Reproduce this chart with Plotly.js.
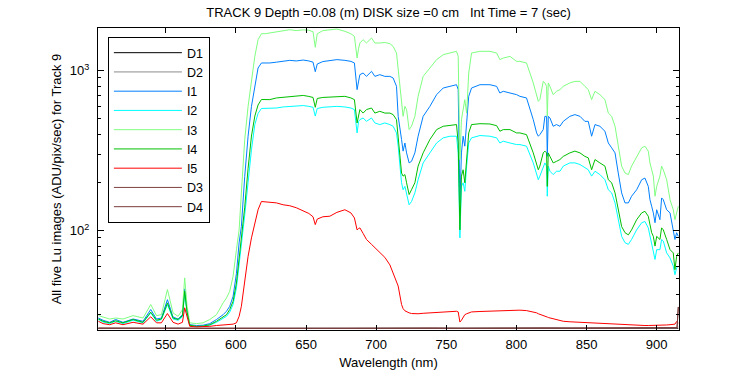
<!DOCTYPE html>
<html><head><meta charset="utf-8">
<script src="https://cdn.plot.ly/plotly-3.0.1.min.js"></script>
<style>html,body{margin:0;padding:0;background:#fff}#chart{width:750px;height:375px}</style>
</head><body><div id="chart"></div>
<script>
// Wavelength grid (nm) for the five Lu image series
const wl = [502, 505.3, 510, 514.3, 519.5, 526.7, 533.8, 539.3, 543.4, 546.9, 551.2, 555.2, 558.8, 561.9, 563.5, 565.2, 567.1, 571.9, 576.6, 581.4, 586.2, 590.9, 593.3, 595.6, 598,
  600.4, 602.3, 603.9, 606.3, 608.7, 611.1, 613.5, 615.8, 618.2, 621, 624.2, 628.9, 633.7, 638.4,
  643, 648, 652, 655, 656.6, 658, 662,
  667, 672, 677.7, 682, 684.5, 686.4, 687.5, 688.4, 690.7, 693.1, 696.7, 699.1, 702.6, 706.2, 709.8, 712.1, 714.5, 715.7, 718.1, 719.2, 720.5, 721.7, 723.5, 725.2, 727.6, 729.9, 733.5, 738.3, 743.1, 747.8, 752.6, 757.3, 758.5, 759.7, 760.8, 762, 763.2, 764.5, 766, 768, 774, 781.1, 785.9, 788.2, 790.6, 795.4, 800.1,
  802.5, 807.2, 812, 814.4, 815.6, 816.7, 819.1, 820.3, 821.5, 822, 822.7, 823.9, 826.2, 828.6, 831, 833.4, 838.1, 841.7, 845.3, 848.8, 851.2, 853.6, 856, 859.5, 863.1, 865.5, 867.9, 870.3, 872.6, 875, 877.4, 879.8, 882.1, 885.7, 889.3, 891.6, 894, 895.2, 896.4, 897.6, 898.8, 900, 902.3, 903.5, 904.7, 907.1, 909.5, 911.8, 913, 914.2, 915.4];

const I1 = [28.4, 27.5, 26.7, 27.8, 26.7, 28.0, 27.1, 32.1, 28.0, 28.4, 37.0, 28.8, 28.0, 29.8, 43.2, 31.3, 25.8, 25.5, 25.6, 26.2, 27.8, 29.8, 31.3, 33.6, 38.8,
  54, 84, 106, 218, 389, 598, 798, 1039, 1117, 1117, 1117, 1130, 1143, 1160,
  1150, 1165, 1150, 1130, 985, 1100, 1140,
  1160, 1172, 1160, 1143, 1117, 761, 860, 944, 967, 921, 990, 921, 944, 921, 921, 900, 798, 518, 371, 314, 353, 306, 265, 271, 306, 389, 518, 598, 708, 779, 798, 817, 761, 149, 306, 389, 337, 494, 691, 779, 817, 817, 798, 725, 743, 725, 708,
  691, 675, 494, 408, 389, 398, 428, 518, 518, 291, 518, 506, 449, 460, 449, 482, 518, 531, 518, 482, 482, 389, 460, 449, 418, 353, 329, 306, 229, 172, 149, 149, 164, 180, 208, 213, 189, 156, 142, 129, 112, 135, 117, 160, 156, 135, 129, 101, 88, 97, 92];

const I2 = [27.8, 26.8, 26.2, 27.1, 26.2, 27.5, 26.5, 30.6, 27.1, 27.8, 34.5, 28.0, 27.5, 28.9, 40.5, 30.6, 25.5, 25.1, 25.2, 25.6, 26.7, 28.5, 29.1, 30.9, 34.5,
  43.8, 60, 85, 125, 200, 320, 460, 540, 580, 580, 580, 584, 593, 598,
  598, 605, 598, 590, 520, 580, 590,
  593, 598, 593, 584, 571, 408, 482, 494, 506, 482, 506, 471, 460, 471, 460, 449, 408, 337, 199, 180, 189, 172, 145, 152, 172, 208, 265, 306, 353, 380, 389, 389, 306, 90, 189, 199, 176, 253, 353, 380, 393, 389, 380, 353, 362, 353, 345,
  345, 337, 265, 229, 208, 219, 253, 265, 253, 164, 253, 235, 224, 235, 235, 253, 265, 265, 259, 246, 240, 219, 235, 224, 208, 180, 172, 149, 117, 92, 84, 82, 88, 101, 112, 114, 104, 92, 84, 76, 66, 76, 76, 88, 86, 72.5, 67.5, 60, 53, 58.4, 60];

const I3 = [29.4, 28.9, 28.0, 28.4, 28.0, 29.4, 28.4, 34.5, 29.4, 29.8, 42.8, 30.6, 29.1, 32.1, 50.6, 33.6, 26.5, 26.2, 26.5, 27.8, 29.8, 35.3, 37.9, 41.7, 51.8,
  76, 101, 172, 371, 598, 879, 1228, 1562, 1703, 1703, 1720, 1737, 1763, 1803,
  1780, 1800, 1790, 1750, 1400, 1700, 1780,
  1803, 1820, 1763, 1700, 1638, 1199, 1380, 1489, 1562, 1489, 1600, 1489, 1489, 1500, 1475, 1418, 1289, 1014, 598, 518, 598, 571, 428, 449, 518, 691, 921, 1039, 1172, 1259, 1289, 1321, 1228, 278, 494, 571, 659, 543, 967, 1289, 1321, 1321, 1289, 1172, 1199, 1228, 1143,
  1143, 1117, 838, 691, 643, 659, 857, 838, 798, 518, 838, 798, 708, 743, 761, 798, 838, 857, 857, 798, 761, 659, 743, 708, 659, 543, 518, 449, 337, 253, 229, 224, 253, 291, 329, 337, 314, 265, 240, 219, 164, 189, 219, 253, 240, 208, 156, 135, 117, 129, 142];

const I4 = [28.0, 27.1, 26.5, 27.3, 26.5, 27.8, 26.7, 30.9, 27.5, 28.0, 35.3, 28.4, 27.8, 29.4, 41.7, 30.9, 25.6, 25.2, 25.3, 25.8, 27.1, 28.9, 29.8, 32.1, 36.1,
  47, 66, 90, 140, 245, 390, 520, 610, 660, 662, 659, 675, 680, 691,
  690, 700, 690, 680, 590, 670, 680,
  684, 684, 691, 675, 659, 471, 531, 571, 543, 571, 584, 543, 557, 543, 543, 531, 494, 389, 229, 219, 224, 199, 168, 180, 199, 253, 306, 371, 428, 449, 453, 460, 353, 101, 219, 240, 199, 278, 408, 460, 466, 464, 453, 418, 428, 428, 408,
  408, 398, 306, 253, 240, 253, 306, 314, 306, 189, 306, 291, 265, 271, 278, 291, 306, 314, 306, 291, 285, 240, 278, 265, 253, 208, 199, 172, 135, 106, 97, 94, 101, 117, 129, 132, 123, 106, 97, 92, 80, 92, 88, 104, 101, 88, 76, 72.5, 57, 69, 72.5];

const I5 = [27.1, 26.2, 25.8, 26.5, 25.8, 26.7, 26.0, 28.9, 26.5, 26.5, 30.3, 26.7, 26.0, 26.7, 32.9, 28.4, 25.2, 25.0, 25.0, 25.2, 25.5, 25.8, 25.8, 25.9, 26.0,
  26.5, 29.1, 33.6, 49.4, 69, 90, 112, 135, 152, 151, 150, 149, 145, 143,
  139, 133, 128, 122, 109, 118, 122,
  123, 130, 135, 129, 120, 101, 103, 104, 96, 88, 82, 78, 73, 68, 61, 54, 48, 45, 34.5, 32.5, 31.5, 31, 30.6, 30.3, 30.2, 30.2, 30.4, 30.6, 30.8, 30.9, 31.1, 31.3, 31, 26.8, 27.5, 28.8, 29.8, 30.2, 30.7, 31, 31.2, 31.4, 31.6, 31.6, 31.7, 31.8, 31.8,
  31.8, 31.6, 31, 30.6, 30.2, 30, 29.6, 29.4, 29.2, 28.8, 28.6, 28.4, 28, 27.6, 27.3, 27.1, 26.9, 26.8, 26.7, 26.6, 26.5, 26.4, 26.3, 26.2, 26.1, 26, 25.9, 25.8, 25.8, 25.7, 25.7, 25.6, 25.6, 25.6, 25.5, 25.5, 25.5, 25.5, 25.5, 25.5, 25.5, 25.5, 25.5, 25.6, 25.6, 25.7, 25.8, 25.9, 26, 27, 26.5];

// Dark frames
const darkWl = [502, 520, 540, 560, 580, 600, 620, 640, 660, 680, 700, 720, 740, 760, 780, 800, 820, 840, 860, 880, 900, 912, 914.5, 915.4];
const D1 = [24.4, 24.5, 24.4, 24.5, 24.4, 24.4, 24.5, 24.4, 24.5, 24.4, 24.5, 24.4, 24.4, 24.5, 24.4, 24.5, 24.4, 24.4, 24.5, 24.4, 24.5, 24.4, 24.5, 24.5];
const D2 = [24.5, 24.4, 24.5, 24.4, 24.5, 24.5, 24.4, 24.5, 24.4, 24.5, 24.4, 24.5, 24.5, 24.4, 24.5, 24.4, 24.5, 24.5, 24.4, 24.5, 24.4, 24.5, 24.6, 25.0];
const D3 = [24.5, 24.6, 24.5, 24.5, 24.6, 24.5, 24.5, 24.6, 24.5, 24.5, 24.6, 24.5, 24.6, 24.5, 24.5, 24.6, 24.5, 24.5, 24.6, 24.5, 24.5, 24.6, 24.7, 33.3];
const D4 = [24.6, 24.5, 24.6, 24.5, 24.5, 24.6, 24.5, 24.5, 24.6, 24.5, 24.5, 24.6, 24.5, 24.5, 24.6, 24.5, 24.6, 24.5, 24.5, 24.6, 24.5, 24.5, 24.7, 33.3];

const seriesNames = ['D1', 'D2', 'I1', 'I2', 'I3', 'I4', 'I5', 'D3', 'D4'];
const seriesX = [darkWl, darkWl, wl, wl, wl, wl, wl, darkWl, darkWl];
const seriesY = [D1, D2, I1, I2, I3, I4, I5, D3, D4];
const seriesColors = ['#000000', '#8c8c8c', '#0080ff', '#00ffff', '#80ff80', '#00bf00', '#ff0000', '#804040', '#7a3c3c'];

const xTickVals = [550, 600, 650, 700, 750, 800, 850, 900];
const yTickVals = [100, 1000];
const yTickText = ['10<sup>2</sup>', '10<sup>3</sup>'];
const yMinorVals = [30, 40, 50, 60, 70, 80, 90, 200, 300, 400, 500, 600, 700, 800, 900];

const FONT = 'Liberation Sans, Arial, Helvetica, sans-serif';

const traces = seriesNames.map((n, i) => ({
  type: 'scatter', mode: 'lines', name: n,
  x: seriesX[i], y: seriesY[i],
  line: {color: seriesColors[i], width: 1}
}));

const layout = {
  width: 750, height: 375,
  margin: {l: 98, r: 71, t: 28, b: 45, pad: 0},
  paper_bgcolor: '#fff', plot_bgcolor: '#fff',
  font: {family: FONT, size: 13, color: '#000'},
  title: {text: 'TRACK 9 Depth =0.08 (m) DISK size =0 cm   Int Time = 7 (sec)', x: 0.518, xanchor: 'center', y: 0.968, yanchor: 'middle', font: {family: FONT, size: 13, color: '#000'}},
  showlegend: true,
  legend: {x: 0.017, y: 0.97, xanchor: 'left', yanchor: 'top', bgcolor: '#fff', bordercolor: '#000', borderwidth: 1,
    font: {family: FONT, size: 12.5, color: '#000'}, itemwidth: 68, tracegroupgap: 0},
  xaxis: {
    range: [501.7, 915.9], showgrid: false, zeroline: false,
    showline: true, linecolor: '#000', linewidth: 1, mirror: 'ticks',
    ticks: 'inside', ticklen: 5, tickcolor: '#000', tickwidth: 1,
    tickmode: 'array', tickvals: xTickVals, ticklabelstandoff: 2,
    tickfont: {family: FONT, size: 13, color: '#000'},
    title: {text: 'Wavelength (nm)', font: {family: FONT, size: 13, color: '#000'}, standoff: 7}
  },
  yaxis: {
    type: 'log', range: [Math.log10(23.9), Math.log10(1848)], showgrid: false, zeroline: false,
    showline: true, linecolor: '#000', linewidth: 1, mirror: 'ticks',
    ticks: 'inside', ticklen: 6, tickcolor: '#000', tickwidth: 1,
    tickmode: 'array', tickvals: yTickVals, ticktext: yTickText, ticklabelstandoff: 5,
    tickfont: {family: FONT, size: 13, color: '#000'},
    minor: {tickmode: 'array', tickvals: yMinorVals, ticks: 'inside', ticklen: 3, tickcolor: '#000', tickwidth: 1, showgrid: false},
    title: {text: 'All five Lu images (ADU/pix/sec) for Track 9', font: {family: FONT, size: 13, color: '#000'}, standoff: 5}
  }
};

Plotly.newPlot('chart', traces, layout, {staticPlot: true, displayModeBar: false});
</script>
</body></html>
